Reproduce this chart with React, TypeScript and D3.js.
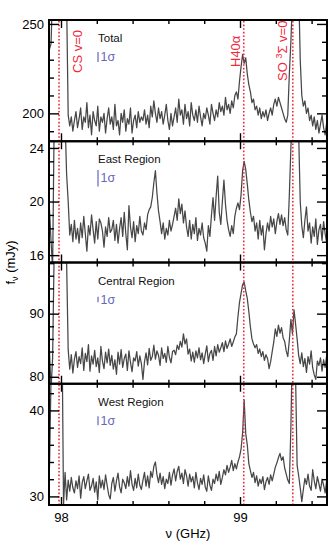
import { useEffect, useRef } from 'react';
import * as d3 from 'd3';

const W = 334;
const H = 550;

// regular channel grid of the spectra (GHz)
const firstChannel = 97.9358;
const channelWidth = 0.0087;

// flux density per channel (mJy)
const totalFlux = [
  236, 239, 270, 300, 300, 300, 300, 300, 300, 300, 290, 262, 199, 193, 198, 190, 196, 201, 192, 197,
  203, 191, 198, 195, 206, 192, 199, 188, 201, 196, 193, 204, 190, 198, 195, 200, 189, 197, 203, 194,
  198, 191, 205, 193, 196, 188, 200, 195, 202, 190, 197, 194, 203, 189, 196, 199, 192, 201, 195, 198,
  196, 202, 194, 199, 192, 204, 198, 207, 200, 195, 203, 197, 201, 194, 199, 205, 196, 191, 200, 193,
  198, 203, 195, 208, 199, 202, 194, 205, 197, 201, 193, 206, 199, 196, 202, 195, 204, 198, 193, 200,
  197, 203, 199, 194, 205, 200, 196, 202, 198, 206, 201, 204, 199, 209, 202, 205, 200, 207, 203, 210,
  212, 208, 218, 226, 233, 228, 231, 222, 216, 212, 206, 208, 202, 204, 199, 203, 197, 201, 198, 202,
  196, 200, 203, 199, 205, 208, 204, 209, 206, 203, 200, 197, 195, 199, 222, 240, 265, 300, 300, 300,
  270, 230, 210, 204, 207, 200, 203, 196, 199, 193, 198, 191, 196, 189, 194, 199, 192, 188, 195, 192,
];

const eastFlux = [
  19.4, 17.0, 15.0, 26, 27, 27, 27, 27, 27, 27, 26, 22, 20.0, 17.5, 18.3, 17.0, 18.6, 17.2, 18.0, 16.9,
  18.4, 17.3, 18.9, 17.6, 16.3, 18.2, 17.5, 19.0, 17.9, 16.9, 18.5, 17.2, 18.7, 18.4, 17.8, 16.6, 18.1, 17.4, 18.8, 17.7,
  17.9, 18.6, 17.1, 18.3, 16.9, 18.0, 18.8, 17.4, 19.2, 17.6, 16.4, 19.7, 18.1, 17.3, 18.5, 17.0, 18.2, 17.6, 18.9, 17.8,
  17.5, 18.4, 17.9, 19.0, 19.4, 19.6, 20.3, 21.4, 22.3, 20.6, 19.3, 18.5, 17.6, 18.4, 17.2, 18.0, 17.5, 18.6, 17.8, 18.3,
  18.9, 19.5, 18.6, 20.2, 19.1, 19.8, 18.4, 19.3, 18.1, 17.4, 18.6, 17.2, 18.3, 17.6, 18.8, 17.1, 18.0, 17.5, 18.4, 17.3,
  16.9, 16.3, 18.2, 17.4, 19.0, 20.3, 18.6, 20.4, 21.9, 19.2, 18.3, 20.0, 21.6, 19.8, 18.6, 17.9, 17.4, 18.2, 17.6, 18.9,
  19.5, 19.9, 19.4, 20.5, 22.3, 23.0, 22.4, 21.3, 20.1, 19.2, 18.5, 18.9, 17.8, 18.4, 17.2, 18.6, 17.5, 18.2, 16.4, 17.6,
  18.4, 17.8, 18.9, 18.1, 18.7, 17.6, 18.5, 19.1, 18.3, 19.0, 18.2, 18.8, 17.9, 17.5, 20.5, 24, 27, 27, 27, 27,
  25, 20.0, 18.2, 17.3, 18.6, 19.6, 17.8, 18.4, 16.9, 18.1, 17.4, 18.7, 16.8, 17.9, 18.3, 17.1, 18.5, 17.6, 16.9, 17.8,
];

const centralFlux = [
  84.0, 78.0, 83.0, 100, 110, 110, 110, 110, 110, 110, 108, 98, 84.3, 81.2, 83.5, 80.6, 82.8, 84.0, 81.5, 83.2,
  82.1, 84.6, 81.0, 83.7, 82.4, 85.1, 80.9, 83.3, 82.0, 84.2, 81.6, 83.0, 80.7, 84.8, 82.5, 81.3, 83.9, 82.2, 84.4, 81.8,
  83.4, 81.2, 82.7, 80.4, 83.9, 82.0, 84.3, 81.5, 82.9, 83.6, 81.0, 84.1, 82.3, 80.8, 83.0, 82.5, 84.0, 81.7, 83.3, 82.1,
  79.6, 82.4, 83.8, 81.9, 84.5, 82.6, 83.2, 85.0, 82.8, 84.1, 83.4, 81.8, 84.6, 82.9, 83.7, 82.3, 84.8, 83.1, 82.2, 84.0,
  84.2, 83.5, 85.0, 84.3, 85.6, 84.7, 86.8, 85.2, 86.0, 83.6, 84.4, 82.5, 83.9, 82.3, 84.1, 83.0, 84.6, 82.7, 83.8, 82.1,
  83.6, 84.9, 82.4, 83.7, 84.2, 82.6, 84.8, 83.3, 85.1, 83.9, 84.6, 85.4, 84.0, 85.7, 84.5, 85.2, 86.0, 84.8, 85.5, 86.3,
  86.8, 89.5, 91.8, 93.2, 94.6, 95.0, 93.6, 92.4, 90.3, 87.9, 86.0, 85.2, 84.6, 85.1, 83.7, 84.4, 83.2, 84.0, 82.6, 83.5,
  82.9, 81.3, 82.4, 84.0, 85.5, 87.6, 86.4, 88.2, 86.9, 87.8, 86.2, 85.6, 84.1, 83.2, 85.8, 89.1, 86.8, 90.6, 88.4, 86.0,
  83.4, 82.1, 83.8, 81.6, 82.9, 80.7, 83.2, 82.0, 84.1, 81.4, 80.3, 79.6, 82.5, 81.8, 83.0, 80.9, 82.7, 81.5, 83.4, 82.2,
];

const westFlux = [
  33.4, 44, 50, 50, 50, 50, 50, 50, 50, 29.0, 32.8, 29.6, 31.9, 30.6, 32.2, 31.0, 30.4, 31.8, 30.9, 32.4,
  29.8, 31.6, 32.3, 30.9, 31.8, 32.6, 30.7, 31.2, 32.1, 30.5, 31.7, 29.6, 32.4, 31.0, 31.9, 30.8, 32.5, 31.3, 30.2, 29.7,
  31.5, 32.2, 30.6, 31.8, 32.7, 31.1, 30.4, 32.0, 31.6, 30.9, 32.3, 31.2, 33.0, 31.4, 30.7, 32.1, 31.0, 32.6, 31.3, 30.8,
  31.9, 32.8, 31.2, 32.4, 31.0, 32.9, 32.2, 33.5, 34.0, 32.5, 31.6, 32.7, 31.4, 32.3, 30.9, 32.0, 31.5, 32.8, 31.3, 32.5,
  33.2, 31.8, 32.9, 33.5, 32.0, 32.7, 31.5, 33.1, 32.4, 31.2, 32.6, 31.7, 32.3, 31.0, 32.8, 31.6, 30.8, 32.1, 31.4, 32.5,
  31.1, 30.6, 32.4, 31.3, 30.7, 32.0, 31.5, 32.6, 31.8, 32.9, 31.4, 32.2, 33.1, 32.5, 33.6, 32.8, 33.4, 34.2, 33.0, 33.8,
  33.2, 34.0, 34.6, 35.5, 37.4, 41.2, 37.3, 36.0, 33.8, 33.0, 32.2, 32.8, 31.6, 32.4, 31.2, 32.0, 31.5, 32.3, 30.8, 31.7,
  32.2, 31.4, 32.5, 31.8, 32.6, 33.4, 33.9, 34.5, 35.0, 34.2, 34.6, 33.3, 32.6, 31.9, 31.5, 38, 48, 50, 44, 33.6,
  32.4, 31.0, 29.4, 30.8, 32.1, 31.4, 32.6, 31.2, 30.7, 33.1, 31.8, 30.9, 32.3, 31.5, 30.6, 32.0, 31.3, 30.4, 31.9, 30.8,
];

const panelNames = ['Total', 'East Region', 'Central Region', 'West Region'];
const panelDomains = [[184.4, 252.2], [15.45, 24.5], [78.9, 98.1], [29.0, 43.1]];
const majorTicks = [[200, 250], [16, 20, 24], [80, 90], [30, 40]];
const minorSteps = [10, 1, 2, 2];
const sigmaLevels = [5.5, 1.25, 0.9, 1.05];

const freqDomain = [97.933, 99.486];
const freqMajor = [98, 99];
const freqMinor = [98.2, 98.4, 98.6, 98.8, 99.2, 99.4];

const lineFreqs = [97.989, 99.021, 99.295];

const FONT = 'Liberation Sans, Arial, Helvetica, sans-serif';
const RED = '#f0283a';
const SIGMA = '#6767b5';

export default function App() {
  const svgRef = useRef<SVGSVGElement>(null);

  useEffect(() => {
    const svg = d3.select(svgRef.current);
    svg.selectAll('*').remove();

    const margin = { top: 20, right: 7, bottom: 45, left: 49 };
    const innerW = W - margin.left - margin.right;
    const panelH = (H - margin.top - margin.bottom) / 4;
    const bottom = H - margin.bottom;

    const x = d3.scaleLinear().domain(freqDomain).range([margin.left, W - margin.right]);
    const fluxes = [totalFlux, eastFlux, centralFlux, westFlux];

    const styleAxis = (g: any) => {
      g.select('.domain').remove();
      g.selectAll('.tick line').attr('stroke', '#000').attr('stroke-width', 1.4);
      g.selectAll('text').attr('font-size', 13).attr('font-family', FONT).attr('fill', '#000');
    };

    // spectra
    fluxes.forEach((flux, k) => {
      const top = margin.top + k * panelH;
      const y = d3.scaleLinear().domain(panelDomains[k]).range([top + panelH, top]);

      svg.append('clipPath').attr('id', `clip${k}`)
        .append('rect')
        .attr('x', margin.left).attr('y', top)
        .attr('width', innerW).attr('height', panelH);

      const line = d3.line<number>()
        .x((d, i) => x(firstChannel + i * channelWidth))
        .y(d => y(d));

      svg.append('path')
        .datum(flux)
        .attr('clip-path', `url(#clip${k})`)
        .attr('fill', 'none')
        .attr('stroke', '#474747')
        .attr('stroke-width', 1.25)
        .attr('stroke-linejoin', 'round')
        .attr('d', line);
    });

    // line markers
    svg.selectAll('.marker')
      .data(lineFreqs)
      .enter().append('line')
      .attr('class', 'marker')
      .attr('x1', d => x(d)).attr('x2', d => x(d))
      .attr('y1', margin.top + 1).attr('y2', bottom)
      .attr('stroke', RED)
      .attr('stroke-width', 1.6)
      .attr('stroke-dasharray', '1.6 2');

    const markerText = (f: number, dx: number, y0: number) =>
      svg.append('text')
        .attr('transform', `translate(${x(f) + dx}, ${y0}) rotate(-90)`)
        .attr('font-family', FONT)
        .attr('font-size', 13)
        .attr('fill', RED);

    markerText(lineFreqs[0], 22.5, 73).text('CS v=0');
    markerText(lineFreqs[1], -3.3, 67).text('H40α');
    const so = markerText(lineFreqs[2], -6.3, 81);
    so.append('tspan').text('SO ');
    so.append('tspan').attr('font-size', 9).attr('dy', -5).text('3');
    so.append('tspan').attr('dy', 5).text('Σ v=0');

    // frames, axes, labels
    fluxes.forEach((flux, k) => {
      const top = margin.top + k * panelH;
      const dom = panelDomains[k];
      const y = d3.scaleLinear().domain(dom).range([top + panelH, top]);
      const step = minorSteps[k];
      const minor = d3.range(Math.ceil(dom[0] / step) * step, dom[1], step)
        .filter(v => !majorTicks[k].includes(v));

      svg.append('g').attr('transform', `translate(${margin.left},0)`)
        .call(d3.axisLeft(y).tickValues(majorTicks[k]).tickSize(-10).tickPadding(5).tickFormat(d3.format('d')))
        .call(styleAxis);
      svg.append('g').attr('transform', `translate(${margin.left},0)`)
        .call(d3.axisLeft(y).tickValues(minor).tickSize(-5).tickFormat(() => ''))
        .call(styleAxis);
      svg.append('g').attr('transform', `translate(${W - margin.right},0)`)
        .call(d3.axisRight(y).tickValues(majorTicks[k]).tickSize(-10).tickFormat(() => ''))
        .call(styleAxis);
      svg.append('g').attr('transform', `translate(${W - margin.right},0)`)
        .call(d3.axisRight(y).tickValues(minor).tickSize(-5).tickFormat(() => ''))
        .call(styleAxis);

      svg.append('g').attr('transform', `translate(0,${top})`)
        .call(d3.axisTop(x).tickValues(freqMajor).tickSize(-8).tickFormat(() => ''))
        .call(styleAxis);
      svg.append('g').attr('transform', `translate(0,${top})`)
        .call(d3.axisTop(x).tickValues(freqMinor).tickSize(-4).tickFormat(() => ''))
        .call(styleAxis);
      svg.append('g').attr('transform', `translate(0,${top + panelH})`)
        .call(d3.axisBottom(x).tickValues(freqMajor).tickSize(-8).tickPadding(8)
          .tickFormat(k === 3 ? d3.format('d') : () => ''))
        .call(styleAxis);
      svg.append('g').attr('transform', `translate(0,${top + panelH})`)
        .call(d3.axisBottom(x).tickValues(freqMinor).tickSize(-4).tickFormat(() => ''))
        .call(styleAxis);

      svg.append('rect')
        .attr('x', margin.left).attr('y', top)
        .attr('width', innerW).attr('height', panelH)
        .attr('fill', 'none')
        .attr('stroke', '#000')
        .attr('stroke-width', 2);

      svg.append('text')
        .attr('x', margin.left + 49).attr('y', top + 22)
        .attr('font-family', FONT).attr('font-size', 11.5)
        .attr('fill', '#111')
        .text(panelNames[k]);

      // 1 sigma noise bar
      const half = (y(0) - y(sigmaLevels[k])) / 2;
      const cy = top + 37;
      svg.append('line')
        .attr('x1', margin.left + 49).attr('x2', margin.left + 49)
        .attr('y1', cy - half).attr('y2', cy + half)
        .attr('stroke', SIGMA).attr('stroke-width', 1.2);
      svg.append('text')
        .attr('x', margin.left + 51.5).attr('y', top + 41)
        .attr('font-family', FONT).attr('font-size', 12.5)
        .attr('fill', SIGMA)
        .text('1σ');
    });

    // axis titles
    const yTitle = svg.append('text')
      .attr('transform', `translate(15, ${margin.top + 2 * panelH}) rotate(-90)`)
      .attr('text-anchor', 'middle')
      .attr('font-family', FONT).attr('font-size', 13);
    yTitle.append('tspan').text('f');
    yTitle.append('tspan').attr('font-size', 9).attr('dy', 3).text('ν');
    yTitle.append('tspan').attr('dy', -3).text(' (mJy)');

    svg.append('text')
      .attr('x', margin.left + innerW / 2).attr('y', 538)
      .attr('text-anchor', 'middle')
      .attr('font-family', FONT).attr('font-size', 13)
      .text('ν (GHz)');
  }, []);

  return (
    <svg
      ref={svgRef}
      width={W}
      height={H}
      style={{ position: 'absolute', left: 0, top: 0, background: '#fff' }}
    />
  );
}
